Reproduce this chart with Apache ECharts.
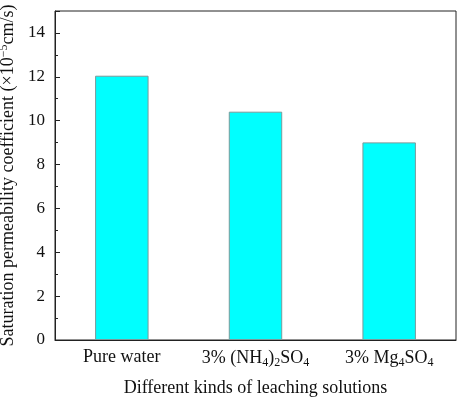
<!DOCTYPE html>
<html>
<head>
<meta charset="utf-8">
<script src="https://cdn.jsdelivr.net/npm/echarts@6/dist/echarts.min.js"></script>
<style>
  html, body { margin: 0; padding: 0; background: #fff; }
  #chart { width: 457px; height: 399px; }
</style>
</head>
<body>
<div id="chart"></div>
<script>
// data
var categories = ['Pure water', '3% (NH4)2SO4', '3% Mg4SO4'];
var categoryLabels = [
  'Pure water',
  '3% (NH{sub|4}){sub|2}SO{sub|4}',
  '3% Mg{sub|4}SO{sub|4}'
];
var permeability = [12.05, 10.41, 9.01];
var yTicks = [0, 2, 4, 6, 8, 10, 12, 14];

var font = 'Liberation Serif, Times New Roman, serif';

var myChart = echarts.init(document.getElementById('chart'));
var option = {
  animation: false,
  grid: {
    left: 55, right: 1, top: 11, bottom: 59,
    outerBoundsMode: 'none',
    containLabel: false,
    show: true, borderColor: '#222', borderWidth: 1
  },
  xAxis: {
    type: 'category',
    data: categories,
    boundaryGap: true,
    axisLine: { lineStyle: { color: '#222', width: 1 } },
    axisTick: { inside: true, length: 4, lineStyle: { color: '#222' } },
    axisLabel: {
      interval: 0,
      margin: 8,
      fontFamily: font, fontSize: 18, color: '#111',
      formatter: function (v, i) { return categoryLabels[i]; },
      rich: {
        sub: { fontFamily: font, fontSize: 12, color: '#111', verticalAlign: 'bottom', padding: [9, 0, 0, 0] }
      }
    },
    name: 'Different kinds of leaching solutions',
    nameLocation: 'middle',
    nameGap: 39,
    nameTextStyle: { fontFamily: font, fontSize: 18, color: '#111' }
  },
  yAxis: {
    type: 'value',
    min: 0, max: 15, interval: 2,
    axisLine: { show: true, lineStyle: { color: '#222', width: 1 } },
    axisTick: { show: true, inside: true, length: 5, lineStyle: { color: '#222' } },
    minorTick: { show: true, splitNumber: 2, length: 3, lineStyle: { color: '#222' } },
    splitLine: { show: false },
    axisLabel: {
      margin: 10,
      fontFamily: font, fontSize: 17, color: '#111',
      formatter: function (v) { return yTicks.indexOf(v) >= 0 ? String(v) : ''; }
    },
    name: '{n|Saturation permeability coefficient (×10}{sup|−5}{n|cm/s)}',
    nameLocation: 'middle',
    nameGap: 35,
    nameRotate: 90,
    nameTextStyle: {
      rich: {
        n: { fontFamily: font, fontSize: 18, color: '#111' },
        sup: { fontFamily: font, fontSize: 12, color: '#111', verticalAlign: 'top', padding: [0, 0, 9, 0] }
      }
    }
  },
  series: [{
    type: 'bar',
    data: permeability,
    barWidth: '40%',
    itemStyle: { color: '#00ffff', borderColor: '#7a9a9a', borderWidth: 1 }
  }]
};
myChart.setOption(option);
</script>
</body>
</html>
